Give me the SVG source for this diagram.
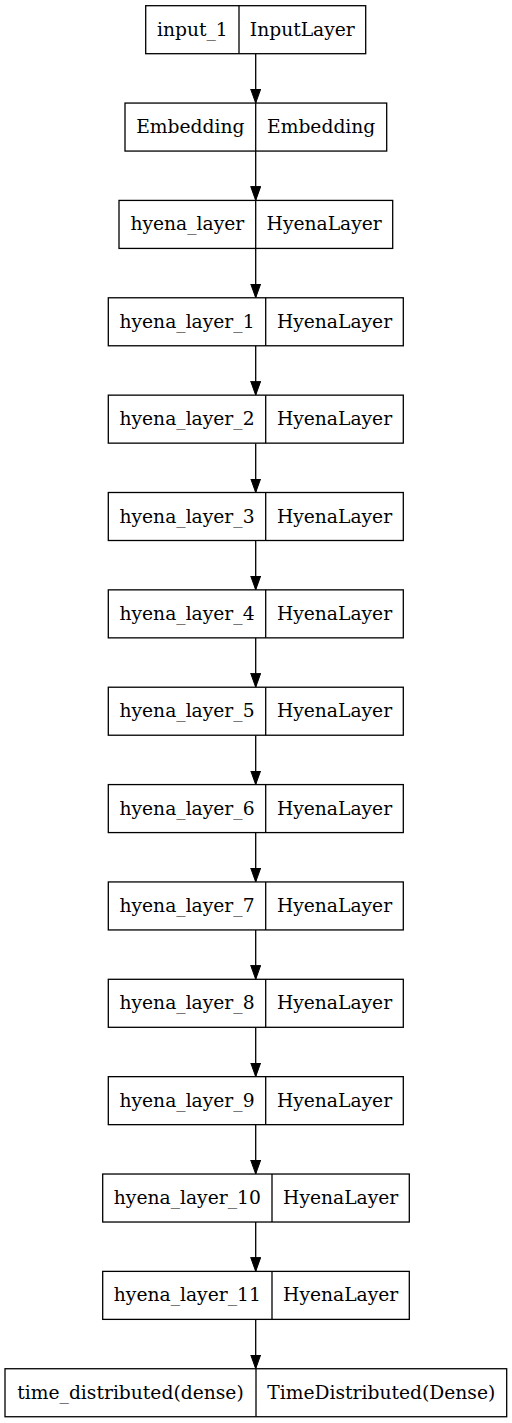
<svg xmlns="http://www.w3.org/2000/svg" width="512" height="1423" viewBox="0 0 512 1423">
<style>
.box{fill:#fff;stroke:#000;stroke-width:1.3}
.div{stroke:#000;stroke-width:1.3}
.edge{stroke:#000;stroke-width:1.3;fill:none}
text{font-family:"DejaVu Serif","Liberation Serif",serif;font-size:18.7px;fill:#000;text-anchor:middle}
</style>
<defs>
<marker id="arr" markerUnits="userSpaceOnUse" markerWidth="15" markerHeight="11" refX="14" refY="5" orient="auto" viewBox="0 0 15 11">
<path d="M0,0 L14,5 L0,10 z" fill="#000" stroke="#000" stroke-width="1"/>
</marker>
</defs>
<rect width="512" height="1423" fill="#fff"/>
<g id="connectors">
<line class="edge" x1="255.7" y1="53.7" x2="255.7" y2="103.06" marker-end="url(#arr)"/>
<line class="edge" x1="255.7" y1="151.06" x2="255.7" y2="200.42" marker-end="url(#arr)"/>
<line class="edge" x1="255.7" y1="248.42" x2="255.7" y2="297.78" marker-end="url(#arr)"/>
<line class="edge" x1="255.7" y1="345.78" x2="255.7" y2="395.14" marker-end="url(#arr)"/>
<line class="edge" x1="255.7" y1="443.14" x2="255.7" y2="492.5" marker-end="url(#arr)"/>
<line class="edge" x1="255.7" y1="540.5" x2="255.7" y2="589.86" marker-end="url(#arr)"/>
<line class="edge" x1="255.7" y1="637.86" x2="255.7" y2="687.22" marker-end="url(#arr)"/>
<line class="edge" x1="255.7" y1="735.22" x2="255.7" y2="784.58" marker-end="url(#arr)"/>
<line class="edge" x1="255.7" y1="832.58" x2="255.7" y2="881.94" marker-end="url(#arr)"/>
<line class="edge" x1="255.7" y1="929.94" x2="255.7" y2="979.3" marker-end="url(#arr)"/>
<line class="edge" x1="255.7" y1="1027.3" x2="255.7" y2="1076.66" marker-end="url(#arr)"/>
<line class="edge" x1="255.7" y1="1124.66" x2="255.7" y2="1174.02" marker-end="url(#arr)"/>
<line class="edge" x1="255.7" y1="1222.02" x2="255.7" y2="1271.38" marker-end="url(#arr)"/>
<line class="edge" x1="255.7" y1="1319.38" x2="255.7" y2="1368.74" marker-end="url(#arr)"/>
</g>
<g id="input_1">
<rect class="box" x="145.7" y="5.7" width="220" height="48"/>
<line class="div" x1="239" y1="5.7" x2="239" y2="53.7"/>
<text x="192.3" y="35.7">input_1</text>
<text x="302.3" y="35.7">InputLayer</text>
</g>
<g id="embedding">
<rect class="box" x="125" y="103.06" width="261.7" height="48"/>
<line class="div" x1="255.7" y1="103.06" x2="255.7" y2="151.06"/>
<text x="190.3" y="133.06">Embedding</text>
<text x="321.2" y="133.06">Embedding</text>
</g>
<g id="hyena_layer">
<rect class="box" x="119" y="200.42" width="273.7" height="48"/>
<line class="div" x1="255.7" y1="200.42" x2="255.7" y2="248.42"/>
<text x="187.3" y="230.42">hyena_layer</text>
<text x="324.2" y="230.42">HyenaLayer</text>
</g>
<g id="hyena_layer_1">
<rect class="box" x="108.3" y="297.78" width="295" height="48"/>
<line class="div" x1="265.7" y1="297.78" x2="265.7" y2="345.78"/>
<text x="187" y="327.78">hyena_layer_1</text>
<text x="334.5" y="327.78">HyenaLayer</text>
</g>
<g id="hyena_layer_2">
<rect class="box" x="108.3" y="395.14" width="295" height="48"/>
<line class="div" x1="265.7" y1="395.14" x2="265.7" y2="443.14"/>
<text x="187" y="425.14">hyena_layer_2</text>
<text x="334.5" y="425.14">HyenaLayer</text>
</g>
<g id="hyena_layer_3">
<rect class="box" x="108.3" y="492.5" width="295" height="48"/>
<line class="div" x1="265.7" y1="492.5" x2="265.7" y2="540.5"/>
<text x="187" y="522.5">hyena_layer_3</text>
<text x="334.5" y="522.5">HyenaLayer</text>
</g>
<g id="hyena_layer_4">
<rect class="box" x="108.3" y="589.86" width="295" height="48"/>
<line class="div" x1="265.7" y1="589.86" x2="265.7" y2="637.86"/>
<text x="187" y="619.86">hyena_layer_4</text>
<text x="334.5" y="619.86">HyenaLayer</text>
</g>
<g id="hyena_layer_5">
<rect class="box" x="108.3" y="687.22" width="295" height="48"/>
<line class="div" x1="265.7" y1="687.22" x2="265.7" y2="735.22"/>
<text x="187" y="717.22">hyena_layer_5</text>
<text x="334.5" y="717.22">HyenaLayer</text>
</g>
<g id="hyena_layer_6">
<rect class="box" x="108.3" y="784.58" width="295" height="48"/>
<line class="div" x1="265.7" y1="784.58" x2="265.7" y2="832.58"/>
<text x="187" y="814.58">hyena_layer_6</text>
<text x="334.5" y="814.58">HyenaLayer</text>
</g>
<g id="hyena_layer_7">
<rect class="box" x="108.3" y="881.94" width="295" height="48"/>
<line class="div" x1="265.7" y1="881.94" x2="265.7" y2="929.94"/>
<text x="187" y="911.94">hyena_layer_7</text>
<text x="334.5" y="911.94">HyenaLayer</text>
</g>
<g id="hyena_layer_8">
<rect class="box" x="108.3" y="979.3" width="295" height="48"/>
<line class="div" x1="265.7" y1="979.3" x2="265.7" y2="1027.3"/>
<text x="187" y="1009.3">hyena_layer_8</text>
<text x="334.5" y="1009.3">HyenaLayer</text>
</g>
<g id="hyena_layer_9">
<rect class="box" x="108.3" y="1076.66" width="295" height="48"/>
<line class="div" x1="265.7" y1="1076.66" x2="265.7" y2="1124.66"/>
<text x="187" y="1106.66">hyena_layer_9</text>
<text x="334.5" y="1106.66">HyenaLayer</text>
</g>
<g id="hyena_layer_10">
<rect class="box" x="102.7" y="1174.02" width="306.6" height="48"/>
<line class="div" x1="272" y1="1174.02" x2="272" y2="1222.02"/>
<text x="187.3" y="1204.02">hyena_layer_10</text>
<text x="340.7" y="1204.02">HyenaLayer</text>
</g>
<g id="hyena_layer_11">
<rect class="box" x="102.7" y="1271.38" width="306.6" height="48"/>
<line class="div" x1="272" y1="1271.38" x2="272" y2="1319.38"/>
<text x="187.3" y="1301.38">hyena_layer_11</text>
<text x="340.7" y="1301.38">HyenaLayer</text>
</g>
<g id="time_distributed">
<rect class="box" x="5" y="1368.74" width="501.7" height="48"/>
<line class="div" x1="256" y1="1368.74" x2="256" y2="1416.74"/>
<text x="130.5" y="1398.74">time_distributed(dense)</text>
<text x="381.3" y="1398.74">TimeDistributed(Dense)</text>
</g>
</svg>
